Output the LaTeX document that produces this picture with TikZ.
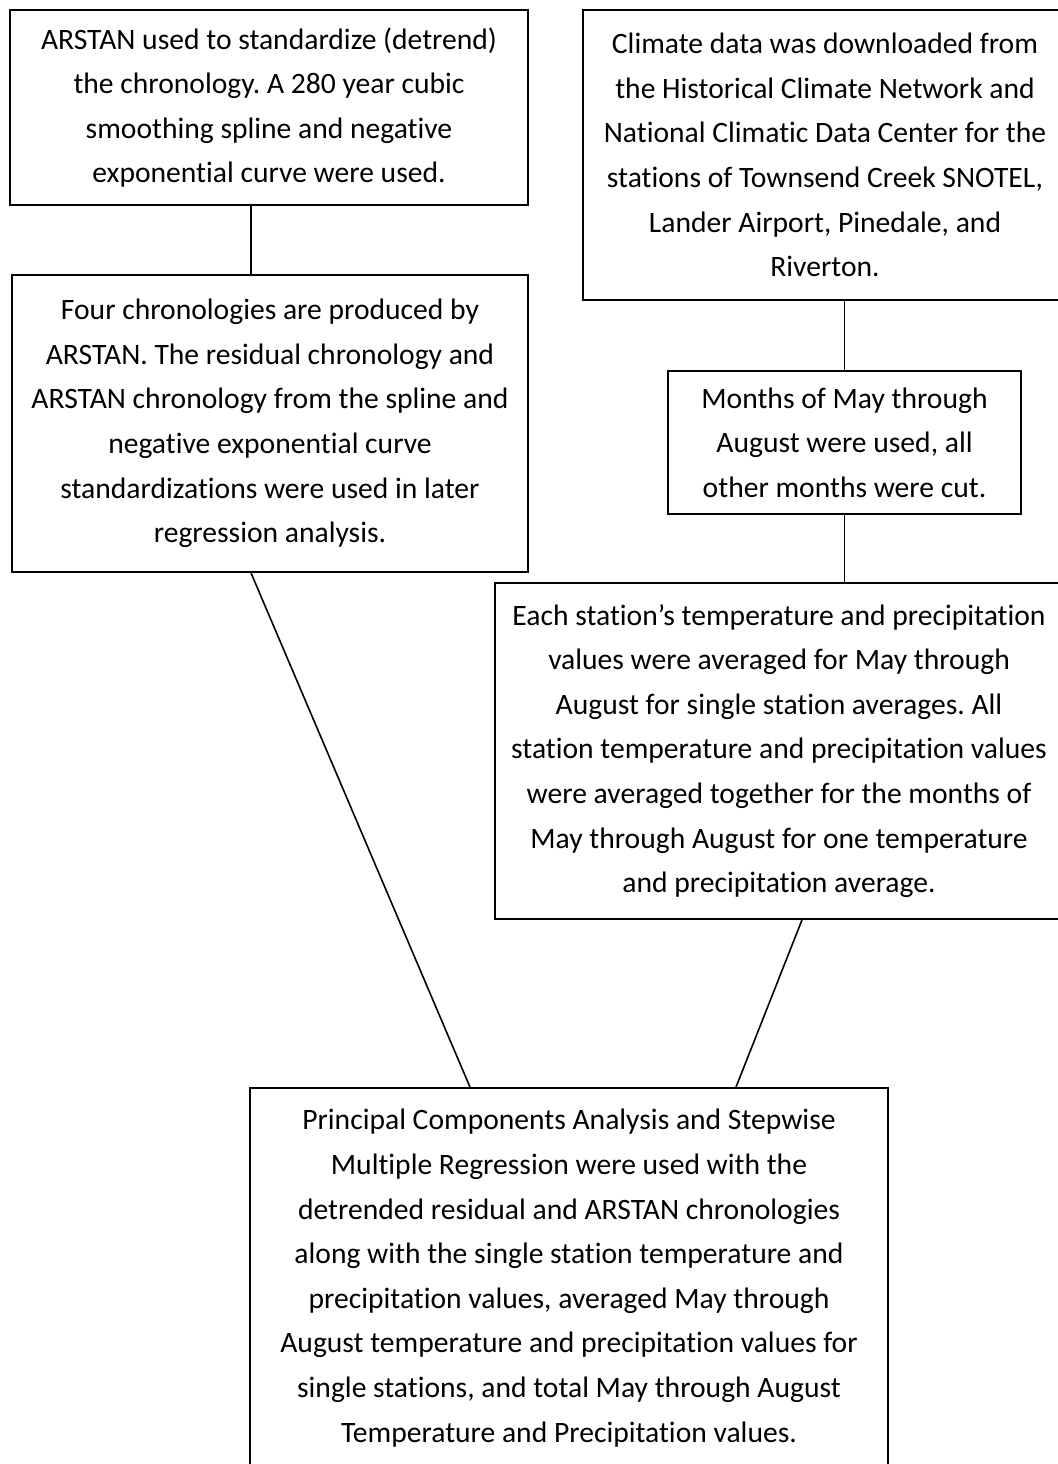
\documentclass[tikz,border=0pt]{standalone}
\usepackage{fontspec}
\setmainfont[Ligatures=NoCommon]{Carlito}
\frenchspacing
\begin{document}
\begin{tikzpicture}[x=0.5pt,y=-0.5pt,
	box/.style={draw,line width=0.9pt,align=center,inner sep=0pt,font=\fontsize{14.8}{22.3}\selectfont},
	link/.style={line width=0.8pt}]
	\useasboundingbox (0,0) rectangle (1058,1464);
	% left column
	\node[box,minimum width=259pt,minimum height=97.5pt] (detrend) at (269,107.5) {ARSTAN used to standardize (detrend)\\ the chronology. A 280 year cubic\\ smoothing spline and negative\\ exponential curve were used.};
	\node[box,minimum width=258pt,minimum height=148.5pt] (chrono) at (270,423.5) {Four chronologies are produced by\\ ARSTAN. The residual chronology and\\ ARSTAN chronology from the spline and\\ negative exponential curve\\ standardizations were used in later\\ regression analysis.};
	% right column
	\node[box,minimum width=242pt,minimum height=145pt] (climate) at (825,155) {Climate data was downloaded from\\ the Historical Climate Network and\\ National Climatic Data Center for the\\ stations of Townsend Creek SNOTEL,\\ Lander Airport, Pinedale, and\\ Riverton.};
	\node[box,minimum width=176.5pt,minimum height=71.5pt] (months) at (844.5,442.5) {Months of May through\\ August were used, all\\ other months were cut.};
	\node[box,minimum width=284pt,minimum height=168pt] (average) at (779,751) {Each station’s temperature and precipitation\\ values were averaged for May through\\ August for single station averages. All\\ station temperature and precipitation values\\ were averaged together for the months of\\ May through August for one temperature\\ and precipitation average.};
	% bottom
	\node[box,minimum width=319pt,minimum height=190pt] (regress) at (569,1278) {Principal Components Analysis and Stepwise\\ Multiple Regression were used with the\\ detrended residual and ARSTAN chronologies\\ along with the single station temperature and\\ precipitation values, averaged May through\\ August temperature and precipitation values for\\ single stations, and total May through August\\ Temperature and Precipitation values.};
	\draw[link] ([xshift=-9pt]detrend.south) -- ([xshift=-9pt]detrend.south |- chrono.north);
	\draw[link] (months.north |- climate.south) -- (months.north);
	\draw[link] (months.south) -- (months.south |- average.north);
	\draw[link] ([xshift=-9.5pt]chrono.south) -- ([xshift=-49.5pt]regress.north);
	\draw[link] ([xshift=11.5pt]average.south) -- ([xshift=83.5pt]regress.north);
\end{tikzpicture}
\end{document}
